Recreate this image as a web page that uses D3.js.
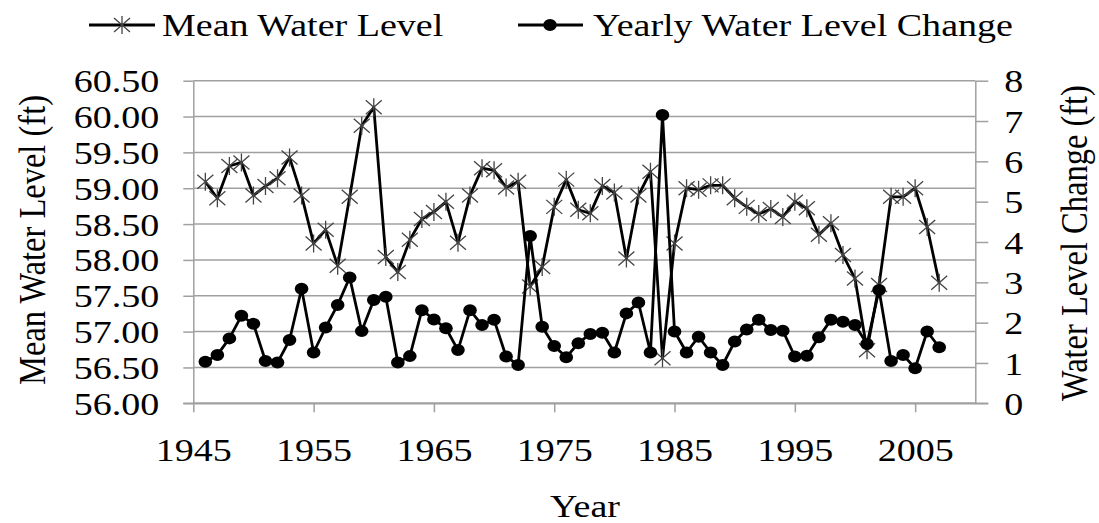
<!DOCTYPE html>
<html>
<head>
<meta charset="utf-8">
<script src="https://cdn.jsdelivr.net/npm/d3@7"></script>
<style>
  body { margin: 0; background: #fff; }
  svg { display: block; }
  text { font-family: "Liberation Serif", "Times New Roman", serif; fill: #000; }
</style>
</head>
<body>
<script>
// data, one value per year
var years = [1946, 1947, 1948, 1949, 1950, 1951, 1952, 1953, 1954, 1955,
  1956, 1957, 1958, 1959, 1960, 1961, 1962, 1963, 1964, 1965,
  1966, 1967, 1968, 1969, 1970, 1971, 1972, 1973, 1974, 1975,
  1976, 1977, 1978, 1979, 1980, 1981, 1982, 1983, 1984, 1985,
  1986, 1987, 1988, 1989, 1990, 1991, 1992, 1993, 1994, 1995,
  1996, 1997, 1998, 1999, 2000, 2001, 2002, 2003, 2004, 2005,
  2006, 2007]

var meanLevel = [59.09, 58.86, 59.31, 59.36, 58.90, 59.03, 59.14, 59.43, 58.90, 58.23,
  58.42, 57.92, 58.88, 59.87, 60.13, 58.04, 57.83, 58.28, 58.57, 58.67,
  58.81, 58.24, 58.90, 59.28, 59.25, 59.01, 59.09, 57.63, 57.90, 58.74,
  59.12, 58.70, 58.65, 59.03, 58.94, 58.02, 58.90, 59.23, 56.63, 58.23,
  59.00, 58.98, 59.04, 59.04, 58.86, 58.74, 58.64, 58.71, 58.60, 58.81,
  58.72, 58.35, 58.51, 58.07, 57.74, 56.74, 57.65, 58.88, 58.88, 59.00,
  58.46, 57.68]

var yearlyChange = [1.03, 1.20, 1.61, 2.17, 1.97, 1.05, 1.01, 1.57, 2.84, 1.26,
  1.88, 2.44, 3.12, 1.79, 2.56, 2.64, 1.01, 1.17, 2.31, 2.08,
  1.86, 1.32, 2.31, 1.94, 2.07, 1.16, 0.95, 4.15, 1.90, 1.42,
  1.14, 1.49, 1.72, 1.75, 1.26, 2.23, 2.50, 1.26, 7.15, 1.78,
  1.26, 1.65, 1.26, 0.95, 1.53, 1.83, 2.07, 1.82, 1.80, 1.16,
  1.18, 1.64, 2.07, 2.02, 1.94, 1.47, 2.81, 1.05, 1.20, 0.87,
  1.78, 1.39]

var xTicks = [1945, 1955, 1965, 1975, 1985, 1995, 2005]
var leftTicks = [56, 56.5, 57, 57.5, 58, 58.5, 59, 59.5, 60, 60.5]
var rightTicks = [0, 1, 2, 3, 4, 5, 6, 7, 8]

var width = 1099, height = 523
var plotLeft = 193.3, plotRight = 975.3, plotTop = 80.7, plotBottom = 403.3
var sx = 1.17           // the picture is a bit stretched sideways
var fontSize = 32.5
var grey = "#a0a0a0"

let svg = d3.select("body").append("svg")
    .attr("width", width)
    .attr("height", height)
    .style("font-size", fontSize + "px")

let x = d3.scaleLinear().domain([1945, 2010]).range([plotLeft, plotRight])
let yL = d3.scaleLinear().domain([56, 60.5]).range([plotBottom, plotTop])
let yR = d3.scaleLinear().domain([0, 8]).range([plotBottom, plotTop])

// gridlines
svg.append("g")
    .selectAll("line")
    .data(leftTicks)
    .enter()
    .append("line")
    .attr("x1", plotLeft)
    .attr("x2", plotRight)
    .attr("y1", d => yL(d))
    .attr("y2", d => yL(d))
    .attr("stroke", grey)
    .attr("stroke-width", 1.5)

// left axis
let axL = svg.append("g")
    .attr("transform", "translate(" + plotLeft + ",0)")
    .call(d3.axisLeft(yL).tickValues(leftTicks).tickSize(10).tickSizeOuter(0).tickFormat(d3.format(".2f")))
axL.selectAll("text")
    .attr("x", -34 / sx)
    .attr("dy", "0.34em")
    .attr("transform", "scale(" + sx + ",1)")

// right axis
let axR = svg.append("g")
    .attr("transform", "translate(" + plotRight + ",0)")
    .call(d3.axisRight(yR).tickValues(rightTicks).tickSize(13).tickSizeOuter(0))
axR.selectAll("text")
    .attr("x", 29 / sx)
    .attr("dy", "0.34em")
    .attr("transform", "scale(" + sx + ",1)")

// bottom axis
let axB = svg.append("g")
    .attr("transform", "translate(0," + plotBottom + ")")
    .call(d3.axisBottom(x).tickValues(xTicks).tickSize(9).tickSizeOuter(0).tickFormat(d3.format("d")))
axB.selectAll("text")
    .attr("y", 35)
    .attr("dy", "0.71em")
    .attr("transform", "scale(" + sx + ",1)")
    .attr("x", 0)

svg.selectAll(".domain").attr("stroke", grey).attr("stroke-width", 1.5)
svg.selectAll(".tick line").attr("stroke", grey).attr("stroke-width", 1.5)
svg.selectAll(".tick text").style("font-size", fontSize + "px").style("font-family", "'Liberation Serif', serif").attr("fill", "#000")

// bottom line runs under both outer ticks
svg.append("line")
    .attr("x1", plotLeft - 10).attr("x2", plotRight + 13)
    .attr("y1", plotBottom).attr("y2", plotBottom)
    .attr("stroke", grey).attr("stroke-width", 1.5)

// axis titles
svg.append("text")
    .attr("transform", "translate(45,240) scale(" + sx + ",1) rotate(-90)")
    .attr("text-anchor", "middle")
    .text("Mean Water Level (ft)")

svg.append("text")
    .attr("transform", "translate(1087,243) scale(" + sx + ",1) rotate(-90)")
    .attr("text-anchor", "middle")
    .text("Water Level Change (ft)")

svg.append("text")
    .attr("transform", "translate(585,517) scale(" + sx + ",1)")
    .attr("text-anchor", "middle")
    .text("Year")

var starPath = "M-8,-7L8,7M-8,7L8,-7M0,-9L0,9"

// mean water level series
let meanData = years.map((yr, i) => ({ year: yr, value: meanLevel[i] }))
svg.append("path")
    .datum(meanData)
    .attr("fill", "none")
    .attr("stroke", "#000")
    .attr("stroke-width", 2.8)
    .attr("stroke-linejoin", "round")
    .attr("d", d3.line().x(d => x(d.year)).y(d => yL(d.value)))

svg.append("g")
    .selectAll("path")
    .data(meanData)
    .enter()
    .append("path")
    .attr("transform", d => "translate(" + x(d.year) + "," + yL(d.value) + ")")
    .attr("d", starPath)
    .attr("stroke", "#444")
    .attr("stroke-width", 1.3)
    .attr("fill", "none")

// yearly change series
let changeData = years.map((yr, i) => ({ year: yr, value: yearlyChange[i] }))
svg.append("path")
    .datum(changeData)
    .attr("fill", "none")
    .attr("stroke", "#000")
    .attr("stroke-width", 2.8)
    .attr("stroke-linejoin", "round")
    .attr("d", d3.line().x(d => x(d.year)).y(d => yR(d.value)))

svg.append("g")
    .selectAll("ellipse")
    .data(changeData)
    .enter()
    .append("ellipse")
    .attr("cx", d => x(d.year))
    .attr("cy", d => yR(d.value))
    .attr("rx", 6.8)
    .attr("ry", 6)
    .attr("fill", "#000")

// legend
let leg = svg.append("g")
leg.append("line")
    .attr("x1", 89).attr("x2", 155).attr("y1", 25).attr("y2", 25)
    .attr("stroke", "#000").attr("stroke-width", 2.8)
leg.append("path")
    .attr("transform", "translate(122,25)")
    .attr("d", starPath)
    .attr("stroke", "#444").attr("stroke-width", 1.3)
leg.append("text")
    .attr("transform", "translate(162,35.7) scale(" + sx + ",1)")
    .text("Mean Water Level")

leg.append("line")
    .attr("x1", 518).attr("x2", 583).attr("y1", 25).attr("y2", 25)
    .attr("stroke", "#000").attr("stroke-width", 2.8)
leg.append("ellipse")
    .attr("cx", 550).attr("cy", 25).attr("rx", 6.8).attr("ry", 6)
    .attr("fill", "#000")
leg.append("text")
    .attr("transform", "translate(593,35.7) scale(" + sx + ",1)")
    .text("Yearly Water Level Change")
</script>
</body>
</html>
